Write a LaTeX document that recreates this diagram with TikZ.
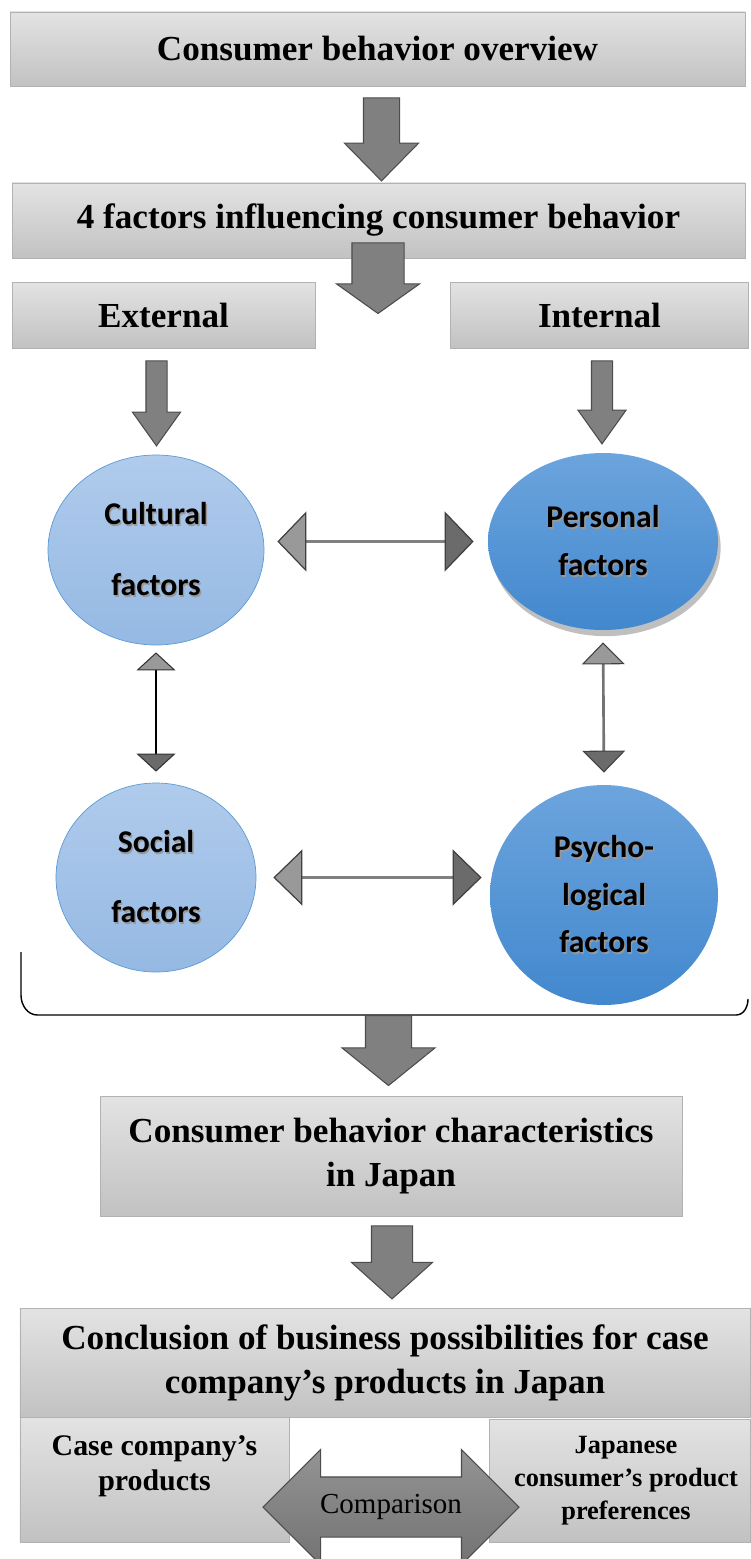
\documentclass[tikz,border=0pt]{standalone}
\usepackage{fontspec}
\setmainfont{Liberation Serif}
\newfontfamily\calib{Carlito}
\usetikzlibrary{shapes.geometric,shapes.arrows,arrows.meta,shadows}

\definecolor{lighttop}{RGB}{176,203,236}
\definecolor{lightbot}{RGB}{149,185,227}
\definecolor{ballline}{RGB}{91,155,213}
\definecolor{darktop}{RGB}{108,164,221}
\definecolor{darkbot}{RGB}{66,136,206}

% text with a soft shadow, for the labels in the balls
\newcommand{\shd}[1]{\leavevmode\rlap{\hspace{0.8pt}\raisebox{-1pt}{\textcolor{black!40}{#1}}}#1}

\begin{document}
\begin{tikzpicture}[
  graybox/.style={rectangle,draw=black!30,top color=black!11,bottom color=black!24,inner sep=0pt,align=center,font=\bfseries\fontsize{20}{25}\selectfont},
  lightball/.style={ellipse,draw=ballline,top color=lighttop,bottom color=lightbot,inner sep=0pt,align=center},
  darkball/.style={ellipse,top color=darktop,bottom color=darkbot,inner sep=0pt,align=center},
  bigarrow/.style={single arrow,rotate=-90,anchor=tail,draw=black!70,fill=black!50,line width=0.6pt},
  thinlink/.style={line width=2pt,draw=black!50},
]
\useasboundingbox (0,0) rectangle (15,-31.18);

% boxes
\node[graybox,minimum width=14.7cm,minimum height=1.48cm] (ov) at (7.55,-0.98) {Consumer behavior overview};
\node[graybox,minimum width=14.66cm,minimum height=1.5cm] (four) at (7.57,-4.41) {4 factors influencing consumer behavior};
\node[graybox,minimum width=6.06cm,minimum height=1.32cm] (ext) at (3.27,-6.3) {External};
\node[graybox,minimum width=5.96cm,minimum height=1.32cm] (int) at (11.99,-6.3) {Internal};

% the four factors
\node[lightball,minimum width=4.32cm,minimum height=3.8cm,font=\calib\bfseries\fontsize{18}{40}\selectfont] (cult) at (3.12,-11.0) {\shd{Cultural}\\\shd{factors}};
\node[darkball,drop shadow={shadow xshift=1.5pt,shadow yshift=-3.5pt,opacity=0.5},minimum width=4.6cm,minimum height=3.54cm,font=\calib\bfseries\fontsize{18}{27}\selectfont] (pers) at (12.06,-10.83) {\shd{Personal}\\\shd{factors}};
\node[lightball,minimum width=4.0cm,minimum height=3.78cm,font=\calib\bfseries\fontsize{18}{40}\selectfont] (soc) at (3.12,-17.55) {\shd{Social}\\\shd{factors}};
\node[darkball,minimum width=4.56cm,minimum height=4.4cm,font=\calib\bfseries\fontsize{18}{27}\selectfont] (psy) at (12.08,-17.9) {\shd{Psycho-}\\\shd{logical}\\\shd{factors}};

\node[graybox,minimum width=11.64cm,minimum height=2.4cm] (char) at (7.82,-23.12) {Consumer behavior characteristics\\in Japan};
\node[graybox,minimum width=14.6cm,minimum height=2.18cm] (conc) at (7.7,-27.25) {Conclusion of business possibilities for case\\company’s products in Japan};
\node[graybox,minimum width=5.38cm,minimum height=2.5cm] (case) at (3.09,-29.59) {};
\node[graybox,minimum width=5.22cm,minimum height=2.46cm] (jap) at (12.39,-29.61) {};
\node[font=\bfseries\fontsize{17}{20}\selectfont,align=center] (casetxt) at (3.09,-29.32) {Case company’s\\products};
\node[font=\bfseries\fontsize{15}{18.8}\selectfont,align=center] (japtxt) at (12.52,-29.62) {Japanese\\consumer’s product\\preferences};

% block arrows
\node[bigarrow,minimum height=1.66cm,minimum width=1.46cm,inner sep=0.35cm,single arrow head extend=0.38cm,single arrow tip angle=89] (a1) at ([xshift=0.08cm,yshift=-0.22cm]ov.south) {};
\node[bigarrow,minimum height=1.1cm,minimum width=1.64cm,inner sep=0.51cm,single arrow head extend=0.31cm,single arrow tip angle=109] (a2) at ([xshift=-0.01cm,yshift=0.32cm]four.south) {};
\node[bigarrow,minimum height=1.7cm,minimum width=0.94cm,inner sep=0.2cm,single arrow head extend=0.27cm,single arrow tip angle=71] (a3) at ([xshift=-0.14cm,yshift=-0.24cm]ext.south) {};
\node[bigarrow,minimum height=1.66cm,minimum width=0.94cm,inner sep=0.2cm,single arrow head extend=0.27cm,single arrow tip angle=71] (a4) at ([xshift=0.05cm,yshift=-0.24cm]int.south) {};

% links between the factors
\draw[thinlink,{Triangle[length=0.58cm,width=1.2cm,fill=black!40,color=black!75,line width=0.7pt]}-{Triangle[length=0.58cm,width=1.2cm,fill=black!58,color=black!75,line width=0.7pt]},shorten <=0.26cm,shorten >=0.28cm] (pers.west -| cult.east) -- (pers.west);
\draw[thinlink,{Triangle[length=0.58cm,width=1.12cm,fill=black!40,color=black!75,line width=0.7pt]}-{Triangle[length=0.58cm,width=1.12cm,fill=black!58,color=black!75,line width=0.7pt]},shorten <=0.34cm,shorten >=0.16cm] (soc.east) -- (soc.east -| psy.west);
\draw[line width=0.8pt,{Triangle[length=0.36cm,width=0.78cm,fill=black!40,color=black!80,line width=0.6pt]}-{Triangle[length=0.36cm,width=0.78cm,fill=black!58,color=black!80,line width=0.6pt]},shorten <=0.14cm,shorten >=0.22cm] (cult.south) -- (soc.north);
\draw[line width=1.5pt,draw=black!55,{Triangle[length=0.44cm,width=0.86cm,fill=black!40,color=black!75,line width=0.6pt]}-{Triangle[length=0.44cm,width=0.86cm,fill=black!58,color=black!75,line width=0.6pt]},shorten <=0.24cm,shorten >=0.24cm] (pers.south) -- (psy.north);

% bracket under the four factors
\draw[line width=0.8pt] (0.42,-19.04) -- (0.42,-19.9) to[out=-90,in=180] (0.75,-20.3) -- (14.72,-20.3) to[out=0,in=-90] (14.96,-19.98);

\node[bigarrow,minimum height=1.4cm,minimum width=1.84cm,inner sep=0.45cm,single arrow head extend=0.47cm,single arrow tip angle=102] (a5) at (7.77,-20.3) {};
\node[bigarrow,minimum height=1.46cm,minimum width=1.6cm,inner sep=0.4cm,single arrow head extend=0.4cm,single arrow tip angle=96] (a6) at ([xshift=0.02cm,yshift=-0.18cm]char.south) {};

% comparison
\node[double arrow,draw=black!70,top color=black!42,bottom color=black!55,line width=0.6pt,minimum height=5.12cm,minimum width=2.28cm,inner sep=0.59cm,double arrow head extend=0.55cm,double arrow tip angle=90] (cmp) at (7.82,-30.14) {};
\node[font=\fontsize{16.5}{20}\selectfont] (cmptxt) at (cmp.center) {Comparison};
\end{tikzpicture}
\end{document}
